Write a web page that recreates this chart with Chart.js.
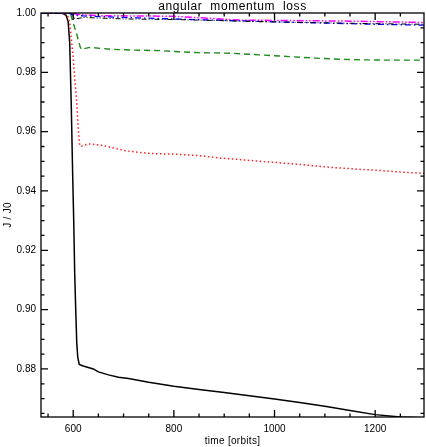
<!DOCTYPE html>
<html>
<head>
<meta charset="utf-8">
<script src="https://cdn.jsdelivr.net/npm/chart.js@4"></script>
<style>
  html, body { margin: 0; padding: 0; background: #fff; }
  #wrap { width: 426px; height: 447px; }
</style>
</head>
<body>
<div id="wrap"><canvas id="myChart"></canvas></div>
<script>
// values (time in orbits, J / J0)
const blackT = [536, 570, 580, 586, 590, 593, 596, 599, 601, 603, 605, 607, 609, 612, 620, 630, 640, 650, 670, 690, 710, 750, 800, 850, 900, 950, 1000, 1050, 1100, 1150, 1200, 1250, 1300];
const blackJ = [1.0, 1.0, 0.9998, 0.9992, 0.997, 0.99, 0.97, 0.945, 0.93, 0.912, 0.90, 0.889, 0.884, 0.8815, 0.8810, 0.8805, 0.8800, 0.8790, 0.8780, 0.8772, 0.8768, 0.8755, 0.8742, 0.8731, 0.8721, 0.8710, 0.8699, 0.8687, 0.8674, 0.8660, 0.8646, 0.8638, 0.8635];

const redT = [536, 580, 588, 593, 597, 600, 603, 607, 610, 613, 617, 630, 660, 680, 706, 730, 758, 805, 851, 891, 931, 970, 1010, 1060, 1109, 1160, 1208, 1250, 1300];
const redJ = [1.0, 1.0, 0.9995, 0.997, 0.99, 0.985, 0.978, 0.97, 0.961, 0.9553, 0.9551, 0.9559, 0.9553, 0.9545, 0.9535, 0.9530, 0.9526, 0.9524, 0.9519, 0.9511, 0.9506, 0.9500, 0.9495, 0.9488, 0.9480, 0.9474, 0.9469, 0.9464, 0.9459];

const greenT = [536, 590, 595, 600, 605, 610, 614, 617, 622, 633, 673, 719, 772, 838, 917, 980, 1030, 1080, 1129, 1180, 1228, 1300];
const greenJ = [1.0, 1.0, 0.9995, 0.9966, 0.994, 0.991, 0.9885, 0.9876, 0.9880, 0.9884, 0.9878, 0.9875, 0.9873, 0.9867, 0.9864, 0.9858, 0.9853, 0.9848, 0.9844, 0.9842, 0.9841, 0.9841];

const blueT = [536, 590, 600, 620, 700, 800, 900, 1000, 1100, 1200, 1300];
const blueJ = [1.0, 1.0, 0.9993, 0.9990, 0.9985, 0.9980, 0.9975, 0.9970, 0.9966, 0.9962, 0.9959];

const pinkT = [536, 595, 610, 650, 800, 931, 1000, 1130, 1200, 1300];
const pinkJ = [1.0, 1.0, 0.9995, 0.9991, 0.9989, 0.9976, 0.9975, 0.9973, 0.9971, 0.9968];

const dotT = [536, 596, 600, 605, 620, 700, 800, 900, 1000, 1100, 1200, 1300];
const dotJ = [1.0, 1.0, 0.9985, 0.998, 0.9985, 0.998, 0.9978, 0.9974, 0.997, 0.9967, 0.9964, 0.9962];

const xTicks = [600, 800, 1000, 1200];
const yTicks = [0.88, 0.90, 0.92, 0.94, 0.96, 0.98, 1.00];

const FONT = 'Liberation Sans';

function pts(t, j) {
  return t.map((v, i) => ({x: v, y: j[i]}));
}

// frame + inward ticks on all four sides, plus the texts
const frame = {
  id: 'frame',
  afterDraw(chart) {
    const c = chart.ctx, a = chart.chartArea;
    const xs = chart.scales.x, ys = chart.scales.y;
    c.save();
    c.strokeStyle = '#000';
    c.lineWidth = 1.3;
    c.strokeRect(a.left, a.top, a.right - a.left, a.bottom - a.top);
    c.beginPath();
    for (let v = 550; v <= 1300; v += 50) {
      const px = xs.getPixelForValue(v);
      if (px < a.left + 1 || px > a.right - 1) continue;
      const len = v % 200 === 0 ? 7 : 3.5;
      c.moveTo(px, a.bottom); c.lineTo(px, a.bottom - len);
      c.moveTo(px, a.top); c.lineTo(px, a.top + len);
    }
    for (let k = 0; k <= 28; k++) {
      const v = 0.865 + k * 0.005;
      const py = ys.getPixelForValue(v);
      if (py < a.top + 1 || py > a.bottom - 1) continue;
      const len = k % 4 === 3 ? 7 : 3.5;
      c.moveTo(a.left, py); c.lineTo(a.left + len, py);
      c.moveTo(a.right, py); c.lineTo(a.right - len, py);
    }
    c.stroke();

    c.fillStyle = '#000';
    c.textAlign = 'center';
    c.textBaseline = 'alphabetic';
    c.font = '12px "' + FONT + '"';
    c.letterSpacing = '0.6px';
    c.fillText('angular  momentum  loss', (a.left + a.right) / 2, 10);
    c.font = '10px "' + FONT + '"';
    c.letterSpacing = '0.3px';
    c.fillText('time [orbits]', (a.left + a.right) / 2, 444);
    c.translate(11, (a.top + a.bottom) / 2);
    c.rotate(-Math.PI / 2);
    c.fillText('J / J0', 0, 0);
    c.restore();
  }
};

new Chart(document.getElementById('myChart'), {
  type: 'line',
  data: {
    datasets: [
      {data: pts(dotT, dotJ), borderColor: '#000', borderWidth: 1, borderDash: [5, 2, 1, 2, 1, 2]},
      {data: pts(blueT, blueJ), borderColor: '#0000ff', borderWidth: 1.3, borderDash: [6, 3, 1.5, 3]},
      {data: pts(pinkT, pinkJ), borderColor: '#ff00ff', borderWidth: 1.5, borderDash: [7, 2, 1.5, 2, 1.5, 2]},
      {data: pts(greenT, greenJ), borderColor: '#1e8c1e', borderWidth: 1.4, borderDash: [6, 4]},
      {data: pts(redT, redJ), borderColor: '#ff2020', borderWidth: 1.5, borderDash: [1.5, 2.5]},
      {data: pts(blackT, blackJ), borderColor: '#000', borderWidth: 1.5}
    ]
  },
  options: {
    responsive: true,
    maintainAspectRatio: false,
    animation: false,
    parsing: true,
    elements: {point: {radius: 0}, line: {tension: 0}},
    layout: {padding: {top: 13, right: 2, left: 0, bottom: 0}},
    plugins: {legend: {display: false}, tooltip: {enabled: false}},
    scales: {
      x: {
        type: 'linear',
        min: 536,
        max: 1297,
        grid: {display: false, drawTicks: false},
        border: {display: false},
        afterFit(s) { s.height = 30; },
        afterBuildTicks(s) { s.ticks = xTicks.map(v => ({value: v})); },
        ticks: {
          color: '#000',
          padding: 6,
          maxRotation: 0,
          font: {family: FONT, size: 10},
          callback: v => String(v)
        }
      },
      y: {
        min: 0.8638,
        max: 1.0,
        grid: {display: false, drawTicks: false},
        border: {display: false},
        afterFit(s) { s.width = 41; },
        afterBuildTicks(s) { s.ticks = yTicks.map(v => ({value: v})); },
        ticks: {
          color: '#000',
          padding: 5,
          font: {family: FONT, size: 10},
          callback: v => Number(v).toFixed(2)
        }
      }
    }
  },
  plugins: [frame]
});
</script>
</body>
</html>
